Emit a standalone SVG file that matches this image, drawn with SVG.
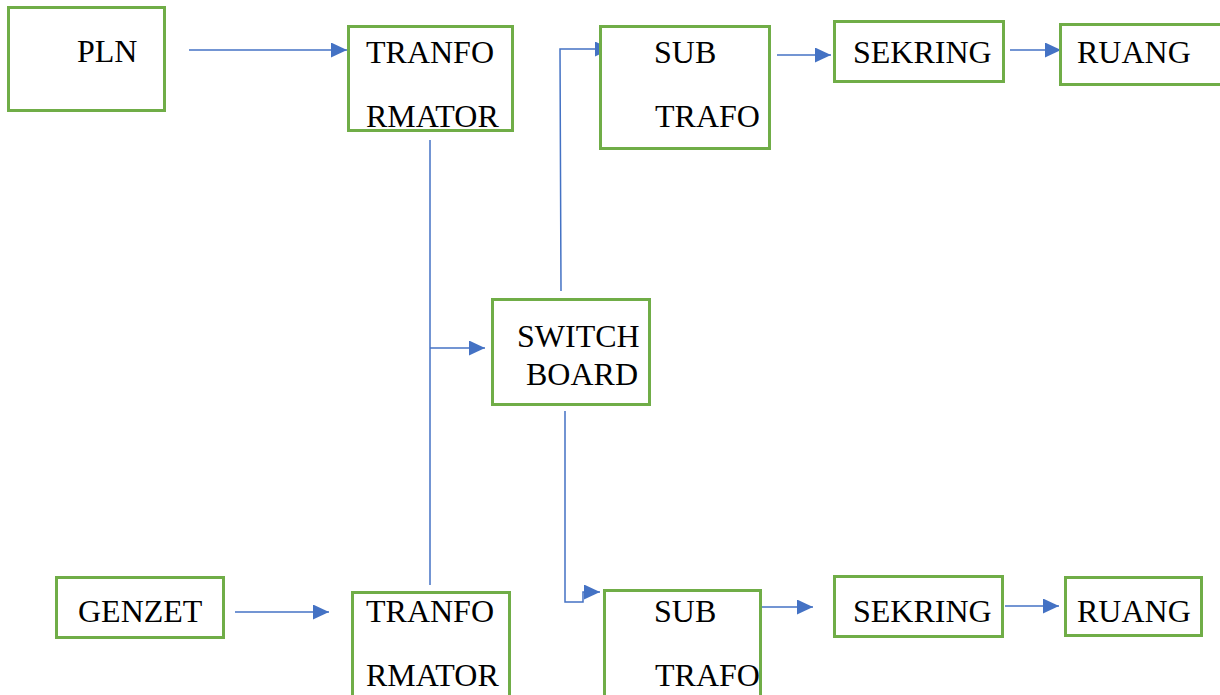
<svg xmlns="http://www.w3.org/2000/svg" width="1220" height="695" viewBox="0 0 1220 695">
<style>
.box{fill:#fff;stroke:#70AD47;stroke-width:3}
.t{font-family:'Liberation Serif','Times New Roman',serif;font-size:32px;fill:#000}
.c{fill:none;stroke:#4472C4;stroke-width:1.5}
</style>
<defs>
<marker id="ah" markerUnits="userSpaceOnUse" markerWidth="17" markerHeight="15" refX="16" refY="7.5" orient="auto">
<path d="M0,0 L16,7.5 L0,15 Z" fill="#4472C4"/>
</marker>
</defs>
<rect width="1220" height="695" fill="#fff"/>
<g id="connectors">
<line class="c" x1="189" y1="50" x2="347" y2="50" marker-end="url(#ah)"/>
<line class="c" x1="430" y1="140" x2="430" y2="585"/>
<line class="c" x1="430" y1="348" x2="485" y2="348" marker-end="url(#ah)"/>
<polyline class="c" points="561,291 560,49 611,49" marker-end="url(#ah)"/>
<polyline class="c" points="565,411 565,602 583,602 583,592 600,592" marker-end="url(#ah)"/>
<line class="c" x1="777" y1="55" x2="831" y2="55" marker-end="url(#ah)"/>
<line class="c" x1="1010" y1="50" x2="1061" y2="50" marker-end="url(#ah)"/>
<line class="c" x1="235" y1="612" x2="329" y2="612" marker-end="url(#ah)"/>
<line class="c" x1="762" y1="607" x2="813" y2="607" marker-end="url(#ah)"/>
<line class="c" x1="1005" y1="606" x2="1059" y2="606" marker-end="url(#ah)"/>
</g>
<g id="pln"><rect class="box" x="8.5" y="7.5" width="156" height="103"/><text class="t" x="77" y="62">PLN</text></g>
<g id="trafo1"><rect class="box" x="348.5" y="26.5" width="164" height="104"/><text class="t" x="366" y="63">TRANFO</text><text class="t" x="366" y="127">RMATOR</text></g>
<g id="subtrafo1"><rect class="box" x="600.5" y="26.5" width="169" height="122"/><text class="t" x="654" y="63">SUB</text><text class="t" x="655" y="127">TRAFO</text></g>
<g id="sekring1"><rect class="box" x="834.5" y="21.5" width="169" height="60"/><text class="t" x="853" y="63">SEKRING</text></g>
<g id="ruang1"><rect class="box" x="1060.5" y="24.5" width="165" height="60"/><text class="t" x="1077" y="63">RUANG</text></g>
<g id="switchboard"><rect class="box" x="492.5" y="299.5" width="157" height="105"/><text class="t" x="517" y="347">SWITCH</text><text class="t" x="526" y="385">BOARD</text></g>
<g id="genzet"><rect class="box" x="56.5" y="577.5" width="167" height="60"/><text class="t" x="78" y="622">GENZET</text></g>
<g id="trafo2"><rect class="box" x="352.5" y="592.5" width="157" height="110"/><text class="t" x="366" y="622">TRANFO</text><text class="t" x="366" y="686">RMATOR</text></g>
<g id="subtrafo2"><rect class="box" x="604.5" y="590.5" width="156" height="110"/><text class="t" x="654" y="622">SUB</text><text class="t" x="655" y="686">TRAFO</text></g>
<g id="sekring2"><rect class="box" x="834.5" y="576.5" width="168" height="60"/><text class="t" x="853" y="622">SEKRING</text></g>
<g id="ruang2"><rect class="box" x="1065.5" y="577.5" width="136" height="58"/><text class="t" x="1077" y="622">RUANG</text></g>
</svg>
